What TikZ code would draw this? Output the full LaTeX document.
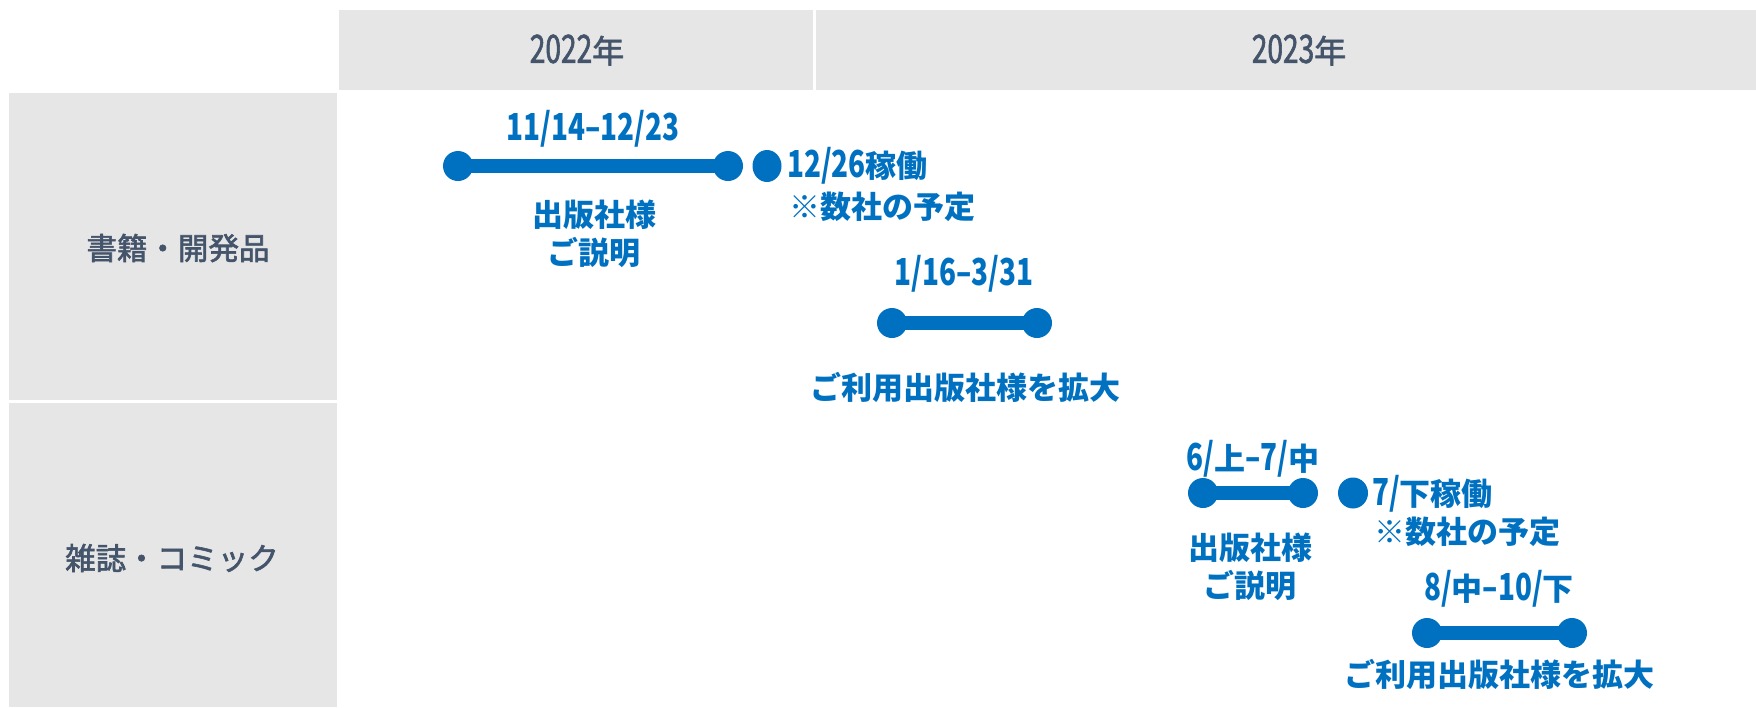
\documentclass[tikz,border=0pt]{standalone}
\usepackage{fontspec}
\setmainfont{Noto Sans CJK JP}
\newfontfamily\condfont{Noto Sans CJK JP}[FakeStretch=0.75,Scale=1.2]
\newfontfamily\medfont{Noto Sans CJK JP}[FakeBold=2]
\newfontfamily\medcondfont{Noto Sans CJK JP}[FakeStretch=0.72,Scale=1.22,FakeBold=1.5]
\newcommand\dg[1]{{\condfont #1}}
\newcommand\mdg[1]{{\medcondfont #1}}
\usetikzlibrary{shapes.geometric}
\definecolor{tblue}{HTML}{0070C0}
\definecolor{tdark}{HTML}{44546A}
\definecolor{tgray}{HTML}{E6E6E6}
\begin{document}
\begin{tikzpicture}[x=1pt,y=-1pt,
  cellbg/.style={fill=tgray},
  hdrtext/.style={text=tdark, font=\medfont\fontsize{32}{38}\selectfont, inner sep=0pt},
  rowtext/.style={text=tdark, font=\medfont\fontsize{30.5}{34}\selectfont, inner sep=0pt},
  bluetext/.style={text=tblue, font=\bfseries\fontsize{31}{38}\selectfont, inner sep=0pt, align=center},
  dot/.style={circle, fill=tblue, minimum size=30pt, inner sep=0pt},
  sdot/.style={ellipse, fill=tblue, minimum width=29pt, minimum height=32pt, inner sep=0pt},
  bar/.style={draw=tblue, line width=14pt},
]
\useasboundingbox (0,0) rectangle (1756,707);
% background cells
\fill[cellbg] (339,10) rectangle (813,90);
\fill[cellbg] (816,10) rectangle (1756,90);
\fill[cellbg] (9,93) rectangle (337,400);
\fill[cellbg] (9,403) rectangle (337,707);
% headers
\node[hdrtext] (t22) at (577,50) {\mdg{2022}年};
\node[hdrtext] (t23) at (1299,50) {\mdg{2023}年};
\node[rowtext] (r1) at (178,248) {書籍・開発品};
\node[rowtext] (r2) at (172,558) {雑誌・コミック};
% bar 1
\node[dot] (a1) at (458,166) {};
\node[dot] (a2) at (728,166) {};
\draw[bar] (a1.center) -- (a2.center);
\node[bluetext] (l1) at (593,129) {\dg{11/14–12/23}};
\node[bluetext] (n1) at (594,234) {出版社様\\ご説明};
\node[sdot] (s1) at (767,166) {};
\node[bluetext, anchor=west] (g1) at (787,166) {\dg{12/26}稼働};
\node[bluetext, anchor=west] (h1) at (789,207) {※数社の予定};
% bar 2
\node[dot] (b1) at (892,323) {};
\node[dot] (b2) at (1037,323) {};
\draw[bar] (b1.center) -- (b2.center);
\node[bluetext] (l2) at (964,274) {\dg{1/16–3/31}};
\node[bluetext] (n2) at (965,387) {ご利用出版社様を拡大};
% bar 3
\node[dot] (c1) at (1203,493) {};
\node[dot] (c2) at (1303,493) {};
\draw[bar] (c1.center) -- (c2.center);
\node[bluetext] (l3) at (1253,459) {\dg{6/}上\dg{–7/}中};
\node[bluetext] (n3) at (1250,567) {出版社様\\ご説明};
\node[sdot, minimum width=30pt, minimum height=31pt] (s2) at (1353,493) {};
\node[bluetext, anchor=west] (g2) at (1372,494) {\dg{7/}下稼働};
\node[bluetext, anchor=west] (h2) at (1374,532) {※数社の予定};
% bar 4
\node[dot] (d1) at (1427,633) {};
\node[dot] (d2) at (1572,633) {};
\draw[bar] (d1.center) -- (d2.center);
\node[bluetext] (l4) at (1499,589) {\dg{8/}中\dg{–10/}下};
\node[bluetext] (n4) at (1499,674) {ご利用出版社様を拡大};
\end{tikzpicture}
\end{document}
